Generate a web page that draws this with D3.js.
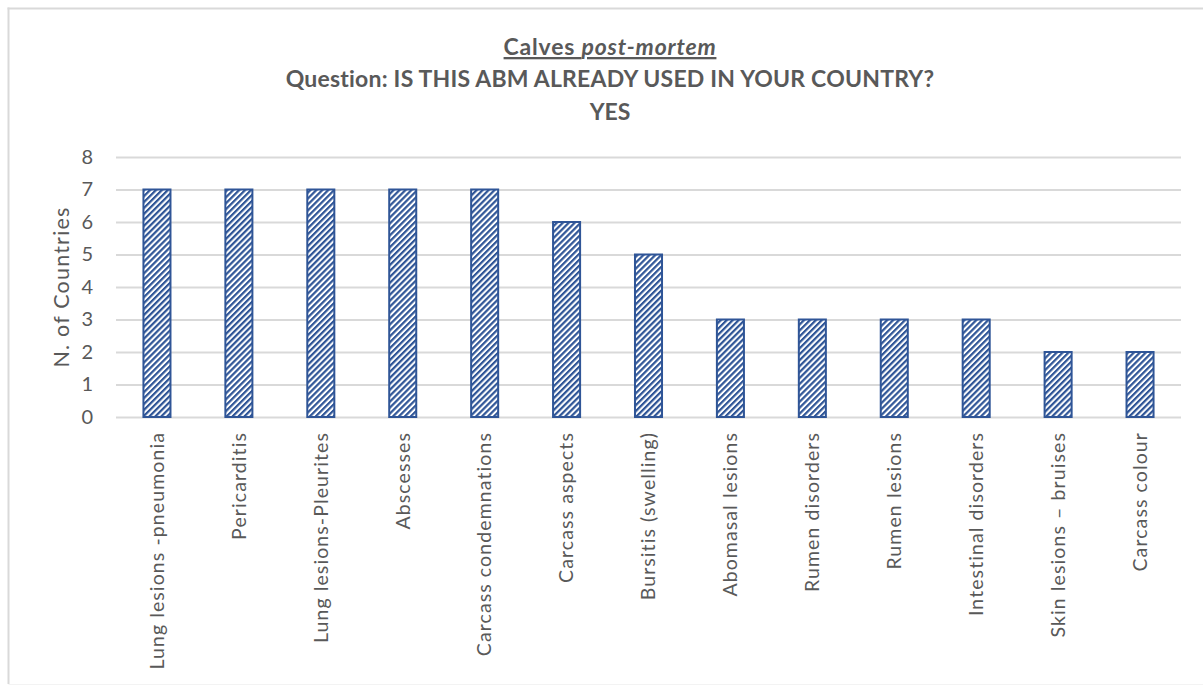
<!DOCTYPE html>
<html>
<head>
<meta charset="utf-8">
<script src="https://cdn.jsdelivr.net/npm/d3@7"></script>
<style>
  html, body { margin: 0; padding: 0; background: #ffffff; }
  svg { display: block; font-family: Lato, "Open Sans", sans-serif; }
</style>
</head>
<body>
<svg id="chart" width="1203" height="687"></svg>
<script>
// ---- data ----
const categories = [
  "Lung lesions -pneumonia",
  "Pericarditis",
  "Lung lesions-Pleurites",
  "Abscesses",
  "Carcass condemnations",
  "Carcass aspects",
  "Bursitis (swelling)",
  "Abomasal lesions",
  "Rumen disorders",
  "Rumen lesions",
  "Intestinal disorders",
  "Skin lesions \u2013 bruises",
  "Carcass colour"
];
const values = [7, 7, 7, 7, 7, 6, 5, 3, 3, 3, 3, 2, 2];
const yTicks = [0, 1, 2, 3, 4, 5, 6, 7, 8];
const titleLine1a = "Calves ";
const titleLine1b = "post-mortem";
const titleLine2 = "Question: IS THIS ABM ALREADY USED IN YOUR COUNTRY?";
const titleLine3 = "YES";
const yAxisTitle = "N. of Countries";

// ---- layout ----
const W = 1203, H = 687;
const plot = { left: 116, right: 1181, top: 157, bottom: 417 };
const textColor = "#595959";
const gridColor = "#d9d9d9";
const barColor = "#2f5597";

const svg = d3.select("#chart");

// chart frame (top and left edges visible, faint bottom)
svg.append("line")
  .attr("x1", 7.5).attr("x2", W).attr("y1", 8.5).attr("y2", 8.5)
  .attr("stroke", gridColor).attr("stroke-width", 2);
svg.append("line")
  .attr("x1", 8.5).attr("x2", 8.5).attr("y1", 7.5).attr("y2", 684)
  .attr("stroke", gridColor).attr("stroke-width", 2);
svg.append("line")
  .attr("x1", 8.5).attr("x2", W).attr("y1", 684.5).attr("y2", 684.5)
  .attr("stroke", "#f3f3f3").attr("stroke-width", 1);

// hatch pattern
const defs = svg.append("defs");
const pat = defs.append("pattern")
  .attr("id", "hatch")
  .attr("patternUnits", "userSpaceOnUse")
  .attr("width", 4.2).attr("height", 4.2)
  .attr("patternTransform", "rotate(45)");
pat.append("rect").attr("width", 4.2).attr("height", 4.2).attr("fill", "#ffffff");
pat.append("rect").attr("x", 0).attr("y", 0).attr("width", 2.2).attr("height", 4.2).attr("fill", barColor);

const x = d3.scaleBand()
  .domain(categories)
  .range([plot.left, plot.right])
  .paddingInner(0.67)
  .paddingOuter(0.335);

const y = d3.scaleLinear()
  .domain([0, 8])
  .range([plot.bottom, plot.top]);

// gridlines + y tick labels
const yAxis = d3.axisLeft(y).tickValues(yTicks).tickSize(-(plot.right - plot.left)).tickPadding(23).tickFormat(d3.format("d"));
const gy = svg.append("g")
  .attr("transform", `translate(${plot.left},0)`)
  .call(yAxis);
gy.select(".domain").remove();
gy.selectAll(".tick line").attr("stroke", gridColor).attr("stroke-width", 2);
gy.selectAll(".tick text")
  .attr("fill", textColor)
  .attr("font-size", 20)
  .attr("font-family", "Lato, sans-serif");

// bars
svg.append("g").selectAll("rect")
  .data(categories.map((c, i) => ({ c, v: values[i] })))
  .join("rect")
  .attr("x", d => x(d.c))
  .attr("y", d => y(d.v))
  .attr("width", x.bandwidth())
  .attr("height", d => y(0) - y(d.v))
  .attr("fill", "url(#hatch)")
  .attr("stroke", barColor)
  .attr("stroke-width", 2);

// x axis labels
const xAxis = d3.axisBottom(x).tickSize(0).tickPadding(0);
const gx = svg.append("g")
  .attr("transform", `translate(0,${plot.bottom})`)
  .call(xAxis);
gx.select(".domain").remove();
gx.selectAll(".tick text")
  .attr("fill", textColor)
  .attr("font-size", 19.5)
  .attr("letter-spacing", 1.1)
  .attr("font-family", "Lato, sans-serif")
  .attr("text-anchor", "end")
  .attr("dy", "0.35em")
  .attr("transform", "translate(0,15) rotate(-90)")
  .attr("x", 0).attr("y", 0);

// y axis title
svg.append("text")
  .attr("transform", `translate(61,287) rotate(-90)`)
  .attr("text-anchor", "middle")
  .attr("dy", "0.35em")
  .attr("fill", textColor)
  .attr("font-size", 21.5)
  .attr("letter-spacing", 1.2)
  .text(yAxisTitle);

// title
const cx = 610;
const t1 = svg.append("text")
  .attr("x", cx).attr("y", 55)
  .attr("text-anchor", "middle")
  .attr("fill", textColor)
  .attr("font-size", 23)
  .attr("letter-spacing", 0.8)
  .attr("font-weight", "bold")
  .attr("text-decoration", "underline");
t1.append("tspan").text(titleLine1a);
t1.append("tspan").attr("font-style", "italic").text(titleLine1b);

svg.append("text")
  .attr("x", cx).attr("y", 87)
  .attr("text-anchor", "middle")
  .attr("fill", textColor)
  .attr("font-size", 23)
  .attr("letter-spacing", 0.2)
  .attr("font-weight", "bold")
  .text(titleLine2);

svg.append("text")
  .attr("x", cx).attr("y", 120)
  .attr("text-anchor", "middle")
  .attr("fill", textColor)
  .attr("font-size", 23)
  .attr("font-weight", "bold")
  .text(titleLine3);
</script>
</body>
</html>
